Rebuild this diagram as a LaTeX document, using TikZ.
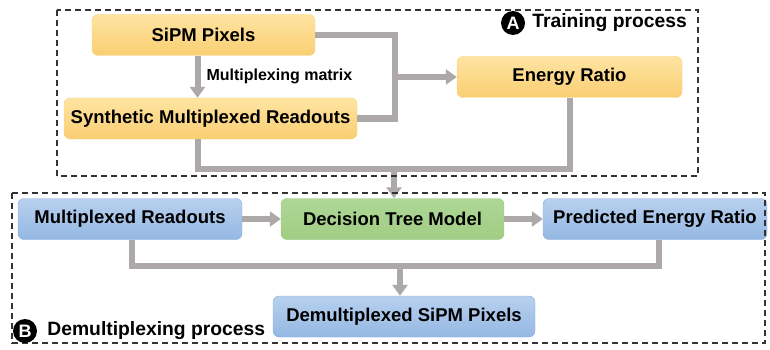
\documentclass[tikz,border=0pt]{standalone}
\usepackage{fontspec}
\setmainfont{Liberation Sans}
\usetikzlibrary{arrows.meta,positioning}

\definecolor{pipegray}{RGB}{174,169,169}
\definecolor{traintop}{RGB}{254,228,162}
\definecolor{trainbot}{RGB}{250,206,114}
\definecolor{trainline}{RGB}{246,212,128}
\definecolor{testtop}{RGB}{184,208,238}
\definecolor{testbot}{RGB}{148,184,227}
\definecolor{testline}{RGB}{138,175,221}
\definecolor{modeltop}{RGB}{174,215,150}
\definecolor{modelbot}{RGB}{160,205,132}
\definecolor{modelline}{RGB}{152,198,124}

\begin{document}
\begin{tikzpicture}[x=1pt,y=-1pt,
    box/.style={rounded corners=6pt,minimum height=41pt,inner sep=2pt,
      font=\fontsize{18.5}{22}\selectfont\bfseries,text=black},
    trainbox/.style={box,draw=trainline,top color=traintop,bottom color=trainbot},
    testbox/.style={box,draw=testline,top color=testtop,bottom color=testbot},
    modelbox/.style={box,draw=modelline,top color=modeltop,bottom color=modelbot},
    pipe/.style={draw=pipegray,line width=6pt},
    flow/.style={pipe,-{Triangle[width=15pt,length=11pt]}},
    region/.style={draw=black!80,line width=1.2pt,dash pattern=on 6pt off 4pt},
    tag/.style={circle,fill=black,text=white,inner sep=0pt,minimum size=24pt,
      font=\fontsize{18}{18}\selectfont\bfseries},
    title/.style={inner sep=3pt,font=\fontsize{19.3}{22}\selectfont\bfseries}]
  \useasboundingbox (0,0) rectangle (770,350);

  % training part
  \node[trainbox,minimum width=223pt] (sipm) at (203.5,35) {SiPM Pixels};
  \node[trainbox,minimum width=293pt] (synth) at (210.5,118.5) {Synthetic Multiplexed Readouts};
  \node[trainbox,minimum width=225pt] (ratio) at (569.5,77) {Energy Ratio};

  % demultiplexing part
  \node[testbox,minimum width=224pt] (mux) at (130,219) {Multiplexed Readouts};
  \node[modelbox,minimum width=223pt] (tree) at (392.5,219) {Decision Tree Model};
  \node[testbox,minimum width=224pt] (pred) at (655,219) {Predicted Energy Ratio};
  \node[testbox,minimum width=262pt] (demux) at (404,316.5) {Demultiplexed SiPM Pixels};

  \coordinate (split) at (395,77);
  \coordinate (merge) at (394,169);
  \coordinate (join) at (400,266);

  \draw[flow] ([xshift=-6pt]sipm.south) -- ([xshift=-6pt]sipm.south |- synth.north)
    node[midway,right=6pt,inner sep=0pt,font=\fontsize{16}{18}\selectfont\bfseries] (mm) {Multiplexing matrix};
  \draw[pipe] (sipm.east) -| (split) |- (synth.east);
  \draw[flow] (split) -- (ratio.west);
  \draw[pipe] ([xshift=-13pt]synth.south) |- (merge) -| (ratio.south);
  \draw[flow] (merge) -- (merge |- tree.north);

  \draw[flow] (mux) -- (tree);
  \draw[flow] (tree) -- (pred);
  \draw[pipe] ([xshift=2pt]mux.south) |- (join) -| ([xshift=4pt]pred.south);
  \draw[flow] (join) -- (join |- demux.north);

  % dashed regions with their titles
  \draw[region] (57,10) rectangle (698,176);
  \draw[region] (12,193) rectangle (765,343);
  \node[tag] (tagA) at (513,23) {A};
  \node[title,right=4pt of tagA] (titleA) {Training process};
  \node[tag] (tagB) at (25,331) {B};
  \node[title,right=7pt of tagB] (titleB) {Demultiplexing process};
\end{tikzpicture}
\end{document}
